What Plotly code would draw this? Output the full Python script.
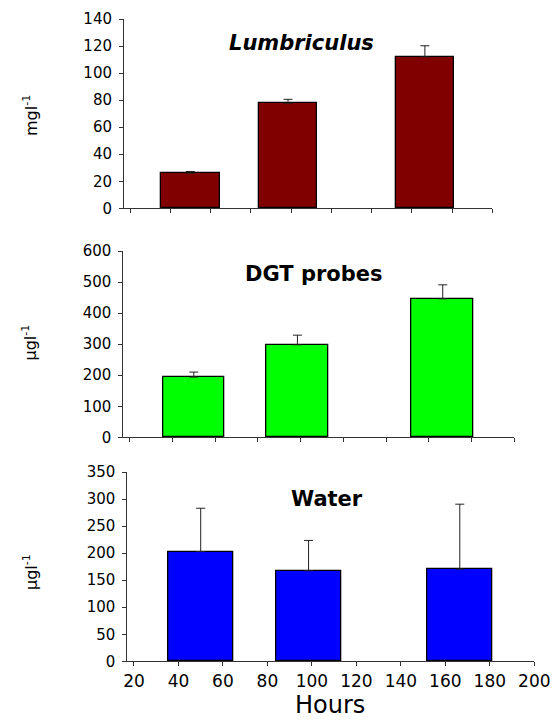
import plotly.graph_objects as go

hours = [50, 98.5, 166.5]
lumbriculus = [26, 77.7, 112]
lumbriculus_err = [1.2, 2.9, 8.2]
dgt = [194, 298, 446]
dgt_err = [16, 31, 45]
water = [203, 167.5, 170.5]
water_err = [80, 56, 120]

x_ticks = [20, 40, 60, 80, 100, 120, 140, 160, 180, 200]

W, H = 558, 721
FONT = "DejaVu Sans"

def px_x(p):
    return p / W

def px_y(p):
    return 1 - p / H

fig = go.Figure()

panels = [
    dict(y=lumbriculus, err=lumbriculus_err, color="#800000", xd=(124, 492.3), yd=(208.3, 19), yr=[0, 140], dt=20, labels=False),
    dict(y=dgt, err=dgt_err, color="#00FF00", xd=(123.3, 514.3), yd=(437.3, 251), yr=[0, 600], dt=100, labels=False),
    dict(y=water, err=water_err, color="#0000FF", xd=(127.3, 534.3), yd=(661.3, 472), yr=[0, 350], dt=50, labels=True),
]

layout = {}
for i, p in enumerate(panels, start=1):
    xa = "x" if i == 1 else f"x{i}"
    ya = "y" if i == 1 else f"y{i}"
    fig.add_trace(go.Bar(
        x=hours, y=p["y"], width=29, xaxis=xa, yaxis=ya,
        marker=dict(color=p["color"], line=dict(color="#000000", width=1.3)),
        error_y=dict(type="data", symmetric=False, array=p["err"], arrayminus=[0, 0, 0],
                     color="#222222", thickness=1, width=4.5),
        showlegend=False,
    ))
    layout[f"xaxis{i if i > 1 else ''}"] = dict(
        domain=[px_x(p["xd"][0]), px_x(p["xd"][1])], range=[17, 200],
        anchor=ya, tickvals=x_ticks, showticklabels=p["labels"],
        ticks="outside", ticklen=4, tickcolor="#333333", tickwidth=1,
        showline=True, linecolor="#333333", linewidth=1, showgrid=False, zeroline=False,
        tickfont=dict(family=FONT, size=17, color="#000000"), fixedrange=True,
        automargin=False,
    )
    layout[f"yaxis{i if i > 1 else ''}"] = dict(
        domain=[px_y(p["yd"][0]), px_y(p["yd"][1])], range=p["yr"], dtick=p["dt"],
        anchor=xa, ticks="outside", ticklen=4, tickcolor="#333333", tickwidth=1,
        showline=True, linecolor="#333333", linewidth=1, showgrid=False, zeroline=False,
        tickfont=dict(family=FONT, size=15, color="#000000"), ticklabelstandoff=4,
        fixedrange=True, automargin=False,
    )

fig.update_layout(**layout)

annotations = [
    dict(text="<b><i>Lumbriculus</i></b>", x=301, y=43, size=21),
    dict(text="<b>DGT probes</b>", x=313.7, y=274, size=21),
    dict(text="<b>Water</b>", x=327, y=499.3, size=21),
    dict(text="Hours", x=330, y=705, size=24),
]
for a in annotations:
    fig.add_annotation(text=a["text"], x=px_x(a["x"]), y=px_y(a["y"]), xref="paper", yref="paper",
                       xanchor="center", yanchor="middle", showarrow=False,
                       font=dict(family=FONT, size=a["size"], color="#000000"))

ytitles = [
    ("mgl<sup>-1</sup>", 116),
    ("μgl<sup>-1</sup>", 342.5),
    ("μgl<sup>-1</sup>", 572),
]
for t, yc in ytitles:
    fig.add_annotation(text=t, x=px_x(30), y=px_y(yc), xref="paper", yref="paper",
                       xanchor="center", yanchor="middle", showarrow=False, textangle=-90,
                       font=dict(family=FONT, size=16, color="#000000"))

fig.update_layout(
    width=W, height=H, margin=dict(l=0, r=0, t=0, b=0, pad=0, autoexpand=False),
    paper_bgcolor="white", plot_bgcolor="white", bargap=0, autosize=False,
)

fig.write_html(
    "out.html",
    config={"responsive": False, "displayModeBar": False},
    post_script="document.body.style.margin='0';document.body.style.overflow='hidden';",
)
